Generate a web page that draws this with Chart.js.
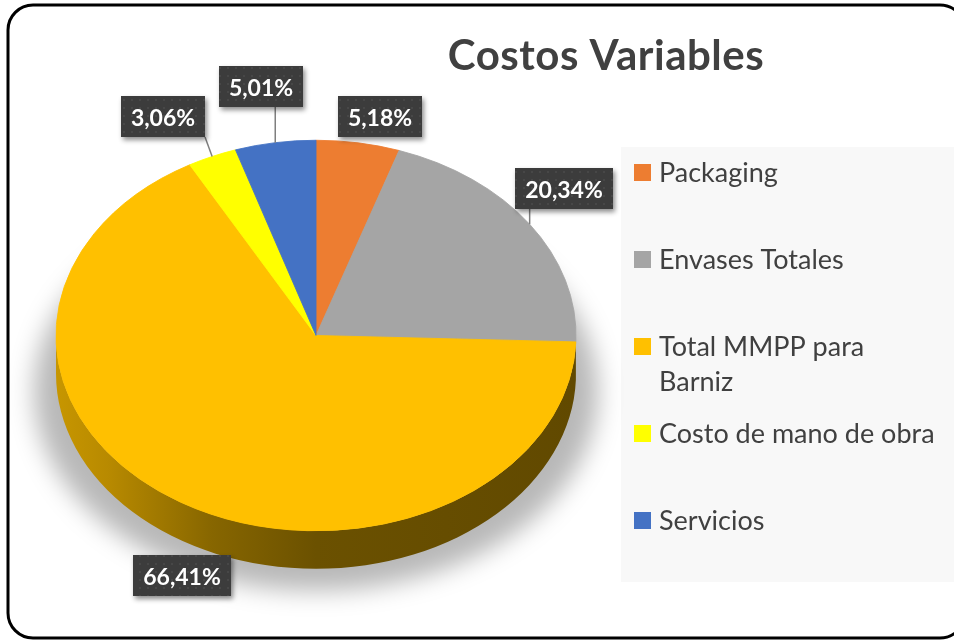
<!DOCTYPE html>
<html>
<head>
<meta charset="utf-8">
<script src="https://cdn.jsdelivr.net/npm/chart.js@4.4.1/dist/chart.umd.min.js"></script>
<style>
  html, body { margin: 0; padding: 0; background: #ffffff; }
  #wrap { width: 954px; height: 641px; position: relative; }
</style>
</head>
<body>
<div id="wrap"><canvas id="pie"></canvas></div>
<script>
// ---- data ----
const chartTitle = 'Costos Variables';
const categories = ['Packaging', 'Envases Totales', 'Total MMPP para Barniz', 'Costo de mano de obra', 'Servicios'];
const shares = [5.18, 20.34, 66.41, 3.06, 5.01];
const sliceColors = ['#ED7D31', '#A5A5A5', '#FFC000', '#FFFF00', '#4472C4'];

// ---- look ----
const SQUASH = 196 / 261;        // vertical flattening of the disc
const DEPTH = 38;                // thickness of the disc, px
const labelOffsets = [[22, -26], [34, -36], [2, 73], [-49, -40], [-14, -56]];
const labelLeaders = [false, true, false, true, true];
const TEXT_DARK = '#404040';

function shade(hex, f) {
  const n = parseInt(hex.slice(1), 16);
  const r = Math.round(((n >> 16) & 255) * f);
  const g = Math.round(((n >> 8) & 255) * f);
  const b = Math.round((n & 255) * f);
  return `rgb(${r},${g},${b})`;
}

function fmtPct(v) { return v.toFixed(2).replace('.', ',') + '%'; }

// dotted dark fill used behind the value labels
function dotPattern(ctx) {
  const c = document.createElement('canvas');
  c.width = 8; c.height = 8;
  const g = c.getContext('2d');
  g.fillStyle = '#3c3c3c'; g.fillRect(0, 0, 8, 8);
  g.fillStyle = '#474747'; g.fillRect(3, 3, 2, 2);
  return ctx.createPattern(c, 'repeat');
}

function roundRect(ctx, x, y, w, h, r) {
  ctx.beginPath();
  ctx.moveTo(x + r, y);
  ctx.lineTo(x + w - r, y); ctx.arcTo(x + w, y, x + w, y + r, r);
  ctx.lineTo(x + w, y + h - r); ctx.arcTo(x + w, y + h, x + w - r, y + h, r);
  ctx.lineTo(x + r, y + h); ctx.arcTo(x, y + h, x, y + h - r, r);
  ctx.lineTo(x, y + r); ctx.arcTo(x, y, x + r, y, r);
  ctx.closePath();
}

// frame, title and legend panel
const framePlugin = {
  id: 'frame',
  beforeDraw(chart) {
    const ctx = chart.ctx;
    ctx.save();
    ctx.fillStyle = '#ffffff';
    ctx.fillRect(0, 0, chart.width, chart.height);
    ctx.lineWidth = 3;
    ctx.strokeStyle = '#000000';
    roundRect(ctx, 8, 5, 957, 633, 25);
    ctx.stroke();

    ctx.fillStyle = TEXT_DARK;
    ctx.font = 'bold 42px Lato';
    ctx.letterSpacing = '0.5px';
    ctx.textAlign = 'center';
    ctx.textBaseline = 'alphabetic';
    ctx.fillText(chartTitle, 606, 70);
    ctx.letterSpacing = '0px';

    // legend
    ctx.fillStyle = '#F8F8F8';
    ctx.fillRect(621, 147, 340, 435);
    ctx.font = '27px Lato';
    ctx.textAlign = 'left';
    const maxW = 280;
    categories.forEach((name, i) => {
      const top = 164 + i * 87;
      ctx.fillStyle = sliceColors[i];
      ctx.fillRect(634, top, 17, 17);
      ctx.fillStyle = TEXT_DARK;
      const words = name.split(' ');
      const lines = [];
      let cur = '';
      words.forEach(w => {
        const t = cur ? cur + ' ' + w : w;
        if (ctx.measureText(t).width > maxW && cur) { lines.push(cur); cur = w; }
        else cur = t;
      });
      lines.push(cur);
      lines.forEach((ln, j) => ctx.fillText(ln, 659, top + 18 + j * 35));
    });
    ctx.restore();
  }
};

// tilted disc: shadow, side wall, then squash the top face
const tiltPlugin = {
  id: 'tilt',
  beforeDatasetsDraw(chart) {
    const ctx = chart.ctx;
    const arcs = chart.getDatasetMeta(0).data;
    const cx = arcs[0].x, cy = arcs[0].y, R = arcs[0].outerRadius;
    const ry = R * SQUASH;

    ctx.save();
    ctx.filter = 'blur(12px)';
    ctx.fillStyle = 'rgba(0,0,0,0.28)';
    ctx.beginPath();
    ctx.ellipse(cx, cy + 56, R + 22, ry + 4, 0, 0, Math.PI * 2);
    ctx.fill();
    ctx.restore();

    ctx.save();
    arcs.forEach((el, i) => {
      const s = Math.max(el.startAngle, 0);
      const e = Math.min(el.endAngle, Math.PI);
      if (e <= s) return;
      const grad = ctx.createLinearGradient(cx - R, 0, cx + R, 0);
      const base = sliceColors[i];
      grad.addColorStop(0, shade(base, 0.78));
      grad.addColorStop(0.1, shade(base, 0.72));
      grad.addColorStop(0.3, shade(base, 0.53));
      grad.addColorStop(0.5, shade(base, 0.42));
      grad.addColorStop(1, shade(base, 0.38));
      ctx.fillStyle = grad;
      ctx.beginPath();
      ctx.ellipse(cx, cy, R, ry, 0, s, e);
      ctx.ellipse(cx, cy + DEPTH, R, ry, 0, e, s, true);
      ctx.closePath();
      ctx.fill();
    });
    ctx.restore();

    ctx.save();
    ctx.translate(cx, cy);
    ctx.scale(1, SQUASH);
    ctx.translate(-cx, -cy);
  },
  afterDatasetsDraw(chart) {
    chart.ctx.restore();
  }
};

// value labels in dark boxes with leader lines
const valueLabelPlugin = {
  id: 'valueLabels',
  afterDatasetsDraw(chart) {
    const ctx = chart.ctx;
    const arcs = chart.getDatasetMeta(0).data;
    const pat = dotPattern(ctx);
    ctx.save();
    ctx.font = 'bold 23px Lato';
    arcs.forEach((el, i) => {
      const m = (el.startAngle + el.endAngle) / 2;
      const ax = el.x + el.outerRadius * Math.cos(m);
      const ay = el.y + el.outerRadius * SQUASH * Math.sin(m);
      const text = fmtPct(shares[i]);
      const w = Math.round(ctx.measureText(text).width + 20);
      const h = 41;
      const bx = Math.round(ax + labelOffsets[i][0] - w / 2);
      const by = Math.round(ay + labelOffsets[i][1] - h / 2);

      if (labelLeaders[i]) {
        const px = Math.min(Math.max(ax, bx), bx + w);
        const py = Math.min(Math.max(ay, by), by + h);
        ctx.strokeStyle = '#7f7f7f';
        ctx.lineWidth = 1.5;
        ctx.beginPath();
        ctx.moveTo(ax, ay);
        ctx.lineTo(px, py);
        ctx.stroke();
      }

      ctx.save();
      ctx.shadowColor = 'rgba(0,0,0,0.45)';
      ctx.shadowBlur = 5;
      ctx.shadowOffsetX = 2;
      ctx.shadowOffsetY = 3;
      ctx.fillStyle = pat;
      ctx.fillRect(bx, by, w, h);
      ctx.restore();

      ctx.fillStyle = '#ffffff';
      ctx.textAlign = 'center';
      ctx.textBaseline = 'alphabetic';
      ctx.fillText(text, bx + w / 2, by + 30);
    });
    ctx.restore();
  }
};

new Chart(document.getElementById('pie'), {
  type: 'pie',
  data: {
    labels: categories,
    datasets: [{
      data: shares,
      backgroundColor: sliceColors,
      borderColor: sliceColors,
      borderWidth: 1
    }]
  },
  options: {
    responsive: true,
    maintainAspectRatio: false,
    animation: false,
    events: [],
    layout: { padding: { left: 55, right: 377, top: 75, bottom: 45 } },
    plugins: {
      legend: { display: false },
      tooltip: { enabled: false },
      title: { display: false }
    }
  },
  plugins: [framePlugin, tiltPlugin, valueLabelPlugin]
});
</script>
</body>
</html>
